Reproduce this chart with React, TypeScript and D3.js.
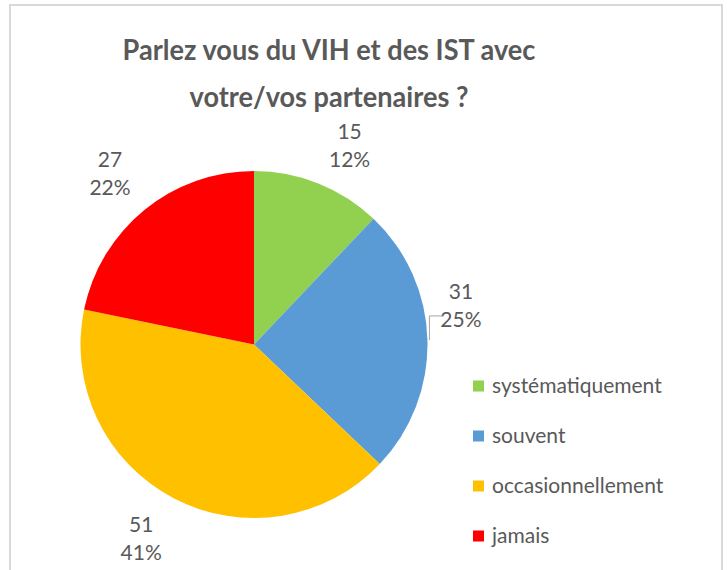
import { useEffect, useRef } from 'react';
import * as d3 from 'd3';

const categories = ['systématiquement', 'souvent', 'occasionnellement', 'jamais'];
const counts = [15, 31, 51, 27];
const colors = ['#92D050', '#5B9BD5', '#FFC000', '#FF0000'];
const titleLines = ['Parlez vous du VIH et des IST avec', 'votre/vos partenaires ?'];
// small per-label shifts, like Excel's "best fit" placement
const labelNudge: [number, number][] = [[14, 5], [-13, -34], [-11, -1], [-5, -1]];

export default function App() {
  const ref = useRef<SVGSVGElement>(null);

  useEffect(() => {
    if (!ref.current) return;
    const W = 727, H = 570;
    const svg = d3.select(ref.current).attr('width', W).attr('height', H);
    svg.selectAll('*').remove();
    const font = 'Lato, "Open Sans", sans-serif';
    const textCol = '#595959';

    svg.append('rect').attr('x', 10).attr('y', 5).attr('width', 712).attr('height', 600)
      .attr('fill', '#fff').attr('stroke', '#d9d9d9').attr('stroke-width', 2);

    // Lato is a bit wider than Calibri, squeeze horizontally
    svg.append('g').attr('transform', 'translate(329,0) scale(0.935,1)')
      .selectAll('text').data(titleLines).join('text')
      .attr('x', 0).attr('y', (_, i) => 60 + i * 47)
      .attr('text-anchor', 'middle').attr('font-family', font).attr('font-weight', 700)
      .attr('font-size', 29).attr('fill', textCol).text(d => d);

    const cx = 254, cy = 344.5, r = 173.5;
    const total = d3.sum(counts);
    const pie = d3.pie<number>().sort(null).value(d => d);
    const arcs = pie(counts);
    const arc = d3.arc<d3.PieArcDatum<number>>().innerRadius(0).outerRadius(r);
    const labelArc = d3.arc<d3.PieArcDatum<number>>().innerRadius(220).outerRadius(220);
    const edgeArc = d3.arc<d3.PieArcDatum<number>>().innerRadius(r + 2).outerRadius(r + 2);

    const g = svg.append('g').attr('transform', `translate(${cx},${cy})`);
    g.selectAll('path').data(arcs).join('path')
      .attr('d', arc).attr('fill', (_, i) => colors[i]);

    arcs.forEach((a, i) => {
      const [lx0, ly0] = labelArc.centroid(a);
      const lx = lx0 + labelNudge[i][0], ly = ly0 + labelNudge[i][1];
      const pct = Math.round(a.value / total * 100) + '%';
      const t = g.append('text').attr('text-anchor', 'middle').attr('font-family', font)
        .attr('font-size', 21).attr('fill', textCol);
      t.append('tspan').attr('x', lx).attr('y', ly - 6).text(a.value);
      t.append('tspan').attr('x', lx).attr('y', ly + 22).text(pct);
      // leader line when the label is pulled away from its slice
      if (Math.abs(labelNudge[i][1]) > 20) {
        const [ex, ey] = edgeArc.centroid(a);
        const hy = ly + 11;
        g.append('path').attr('d', `M${ex},${ey}V${hy}H${lx - 18}`)
          .attr('fill', 'none').attr('stroke', '#a6a6a6').attr('stroke-width', 1);
      }
    });

    const y = d3.scalePoint<string>().domain(categories).range([386, 536]);
    const leg = svg.append('g').selectAll('g').data(categories).join('g')
      .attr('transform', d => `translate(473,${y(d)})`);
    leg.append('rect').attr('x', 0).attr('y', -5.5).attr('width', 11).attr('height', 11)
      .attr('fill', (_, i) => colors[i]);
    leg.append('text').attr('x', 19).attr('y', 7).attr('font-family', font)
      .attr('font-size', 21).attr('fill', textCol).text(d => d);
  }, []);

  return <svg ref={ref} style={{ position: 'absolute', left: 0, top: 0 }} />;
}
